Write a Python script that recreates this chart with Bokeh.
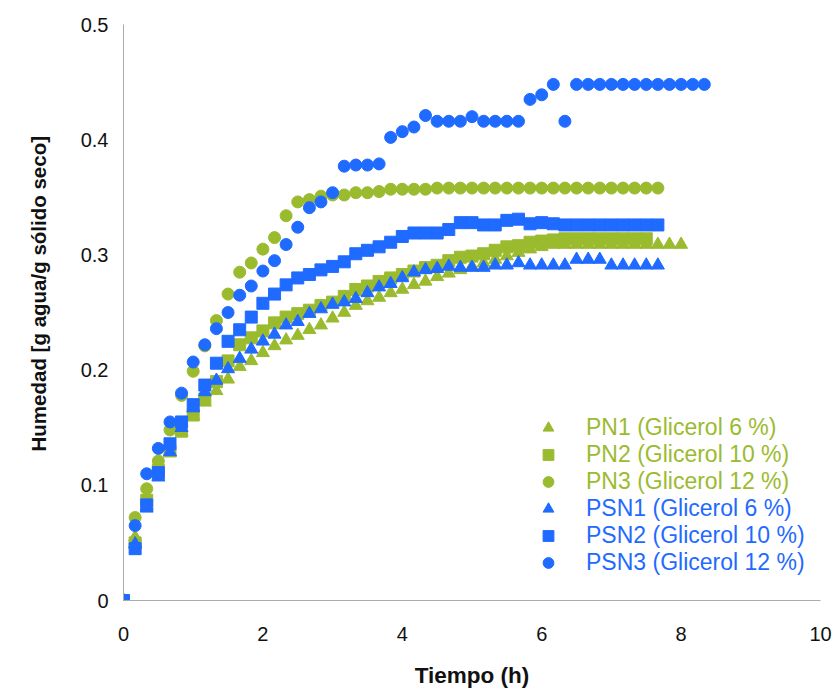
from bokeh.plotting import figure
from bokeh.models import Range1d, FixedTicker, NumeralTickFormatter, Legend, LegendItem, Title
from bokeh.embed import file_html
from bokeh.resources import INLINE

# ---------------- data ----------------
tiempo = [0.0, 0.167, 0.333, 0.5, 0.667, 0.833, 1.0, 1.167, 1.333, 1.5,
          1.667, 1.833, 2.0, 2.167, 2.333, 2.5, 2.667, 2.833, 3.0, 3.167,
          3.333, 3.5, 3.667, 3.833, 4.0, 4.167, 4.333, 4.5, 4.667, 4.833,
          5.0, 5.167, 5.333, 5.5, 5.667, 5.833, 6.0, 6.167, 6.333, 6.5,
          6.667, 6.833, 7.0, 7.167, 7.333, 7.5, 7.667, 7.833, 8.0, 8.167,
          8.333]

pn1 = [0, 0.055, 0.082, 0.108, 0.128, 0.146, 0.160, 0.172, 0.182, 0.192,
       0.203, 0.208, 0.215, 0.221, 0.226, 0.230, 0.235, 0.239, 0.245, 0.250,
       0.256, 0.260, 0.263, 0.267, 0.270, 0.274, 0.277, 0.281, 0.284, 0.287,
       0.290, 0.293, 0.296, 0.299, 0.302, 0.305, 0.307, 0.309, 0.309, 0.309,
       0.309, 0.309, 0.309, 0.309, 0.309, 0.309, 0.309, 0.309, 0.309]

pn2 = [0, 0.050, 0.087, 0.113, 0.130, 0.147, 0.161, 0.175, 0.190, 0.208,
       0.222, 0.228, 0.234, 0.241, 0.246, 0.249, 0.252, 0.256, 0.259, 0.264,
       0.270, 0.273, 0.277, 0.280, 0.283, 0.286, 0.289, 0.291, 0.295, 0.298,
       0.299, 0.301, 0.304, 0.307, 0.308, 0.311, 0.312, 0.313, 0.314, 0.314,
       0.314, 0.314, 0.314, 0.314, 0.314, 0.314]

pn3 = [0, 0.072, 0.097, 0.121, 0.148, 0.178, 0.199, 0.221, 0.243, 0.266,
       0.285, 0.293, 0.305, 0.315, 0.334, 0.346, 0.348, 0.351, 0.352, 0.352,
       0.354, 0.354, 0.355, 0.357, 0.357, 0.357, 0.357, 0.358, 0.358, 0.358,
       0.358, 0.358, 0.358, 0.358, 0.358, 0.358, 0.358, 0.358, 0.358, 0.358,
       0.358, 0.358, 0.358, 0.358, 0.358, 0.358, 0.358]

psn1 = [0, 0.049, 0.080, 0.107, 0.129, 0.150, 0.167, 0.181, 0.191, 0.201,
        0.210, 0.218, 0.225, 0.231, 0.239, 0.242, 0.249, 0.253, 0.257, 0.259,
        0.262, 0.267, 0.272, 0.275, 0.280, 0.285, 0.287, 0.288, 0.290, 0.289,
        0.289, 0.289, 0.291, 0.291, 0.293, 0.291, 0.291, 0.291, 0.291, 0.296,
        0.296, 0.296, 0.291, 0.291, 0.291, 0.291, 0.291]

psn2 = [0, 0.045, 0.083, 0.111, 0.136, 0.155, 0.170, 0.187, 0.206, 0.225,
        0.235, 0.246, 0.258, 0.266, 0.274, 0.280, 0.283, 0.287, 0.290, 0.294,
        0.301, 0.304, 0.307, 0.311, 0.316, 0.319, 0.319, 0.319, 0.322, 0.328,
        0.328, 0.326, 0.326, 0.330, 0.331, 0.327, 0.328, 0.327, 0.326, 0.326,
        0.326, 0.326, 0.326, 0.326, 0.326, 0.326, 0.326]

psn3 = [0, 0.065, 0.110, 0.132, 0.155, 0.180, 0.207, 0.222, 0.236, 0.250,
        0.265, 0.273, 0.286, 0.295, 0.309, 0.324, 0.341, 0.346, 0.354, 0.377,
        0.378, 0.378, 0.379, 0.402, 0.407, 0.411, 0.421, 0.416, 0.416, 0.416,
        0.420, 0.416, 0.416, 0.416, 0.416, 0.435, 0.439, 0.448, 0.416, 0.448,
        0.448, 0.448, 0.448, 0.448, 0.448, 0.448, 0.448, 0.448, 0.448, 0.448,
        0.448]

labels_pn = ["PN1 (Glicerol 6 %)", "PN2 (Glicerol 10 %)", "PN3 (Glicerol 12 %)"]
labels_psn = ["PSN1 (Glicerol 6 %)", "PSN2 (Glicerol 10 %)", "PSN3 (Glicerol 12 %)"]
x_ticks = [0, 2, 4, 6, 8, 10]
y_ticks = [0, 0.1, 0.2, 0.3, 0.4, 0.5]
x_title = "Tiempo (h)"
y_title = "Humedad [g agua/g sólido seco]"

VERDE = "#9BBB2F"
AZUL = "#1F6AFF"
FONT = "Liberation Sans"

# ---------------- figure ----------------
p = figure(width=833, height=690, output_backend="svg", toolbar_location=None,
           x_range=Range1d(0, 10), y_range=Range1d(0, 0.5),
           min_border_left=123, min_border_right=13,
           min_border_top=24, min_border_bottom=89)
p.outline_line_color = None
p.xgrid.visible = False
p.ygrid.visible = False
p.background_fill_color = "white"

for ax in (p.xaxis[0], p.yaxis[0]):
    ax.axis_line_color = "#ABABAB"
    ax.axis_line_width = 1
    ax.major_tick_line_color = None
    ax.minor_tick_line_color = None
    ax.major_tick_out = 0
    ax.major_tick_in = 0
    ax.major_label_text_font = FONT
    ax.major_label_text_font_size = "20px"
    ax.major_label_text_color = "#111111"
    ax.axis_label_text_font = FONT
    ax.axis_label_text_font_size = "22.5px"
    ax.axis_label_text_font_style = "bold"
    ax.axis_label_text_color = "#111111"
    ax.formatter = NumeralTickFormatter(format="0.[0]")

p.xaxis[0].ticker = FixedTicker(ticks=x_ticks)
p.yaxis[0].ticker = FixedTicker(ticks=y_ticks)
p.xaxis[0].axis_label = x_title
p.xaxis[0].major_label_standoff = 26
p.xaxis[0].axis_label_standoff = 19
p.yaxis[0].major_label_standoff = 15

ytitle = Title(text=y_title, align="left", offset=149, standoff=52,
               vertical_align="top",
               text_font=FONT, text_font_size="20.5px", text_font_style="bold",
               text_color="#111111")
p.add_layout(ytitle, "left")

r_pn1 = p.scatter(tiempo[:len(pn1)], pn1, marker="triangle", size=13, color=VERDE)
r_pn2 = p.scatter(tiempo[:len(pn2)], pn2, marker="square", size=12, color=VERDE)
r_pn3 = p.scatter(tiempo[:len(pn3)], pn3, marker="circle", size=12, color=VERDE)
r_psn1 = p.scatter(tiempo[:len(psn1)], psn1, marker="triangle", size=13, color=AZUL)
r_psn2 = p.scatter(tiempo[:len(psn2)], psn2, marker="square", size=12, color=AZUL)
r_psn3 = p.scatter(tiempo[:len(psn3)], psn3, marker="circle", size=12, color=AZUL)


def make_legend(labels, renderers, color, loc):
    leg = Legend(items=[LegendItem(label=l, renderers=[r]) for l, r in zip(labels, renderers)],
                 location=loc, padding=0, margin=0, spacing=0,
                 glyph_width=28, glyph_height=27, label_height=27, label_standoff=24,
                 border_line_color=None, background_fill_alpha=0,
                 label_text_font=FONT, label_text_font_size="23px",
                 label_text_color=color, label_text_baseline="middle")
    return leg


p.add_layout(make_legend(labels_pn, [r_pn1, r_pn2, r_pn3], VERDE, (411, 105)))
p.add_layout(make_legend(labels_psn, [r_psn1, r_psn2, r_psn3], AZUL, (411, 24)))

open("out.html", "w").write(file_html(p, INLINE))
